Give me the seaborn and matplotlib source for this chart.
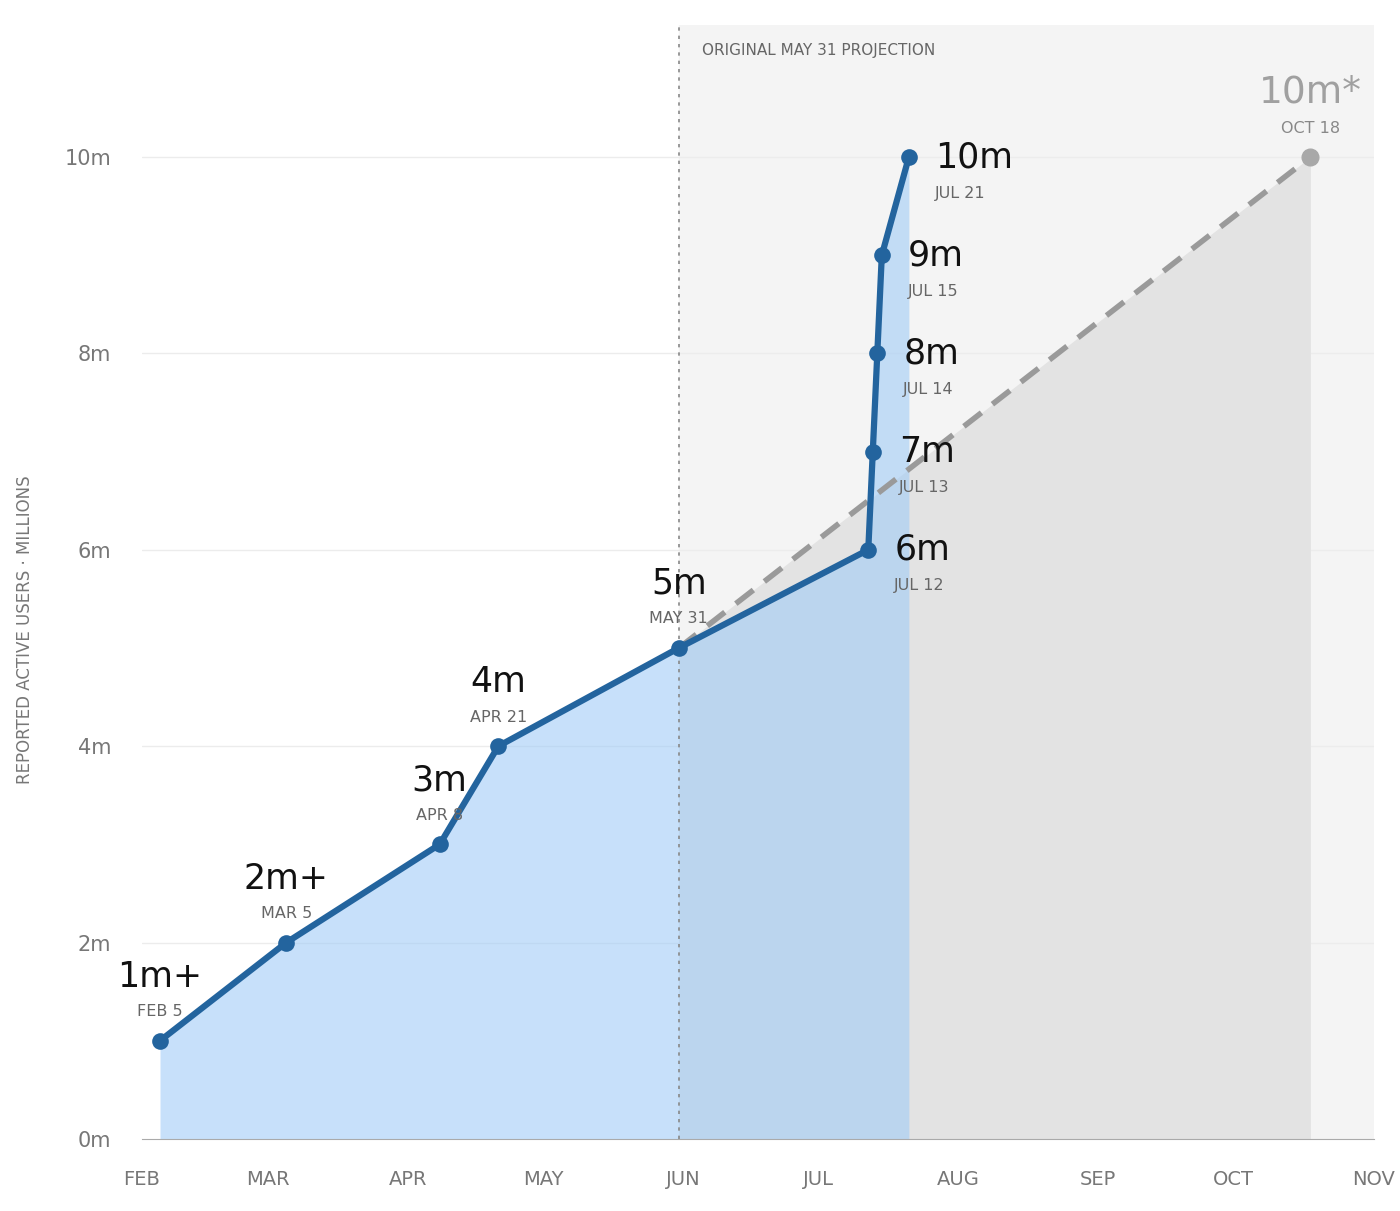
import pandas as pd
import seaborn as sns
import matplotlib.pyplot as plt
import matplotlib.dates as mdates

dates = ['2023-02-05', '2023-03-05', '2023-04-08', '2023-04-21', '2023-05-31',
         '2023-07-12', '2023-07-13', '2023-07-14', '2023-07-15', '2023-07-21']
users = [1, 2, 3, 4, 5, 6, 7, 8, 9, 10]
value_labels = ['1m+', '2m+', '3m', '4m', '5m', '6m', '7m', '8m', '9m', '10m']
date_labels = ['FEB 5', 'MAR 5', 'APR 8', 'APR 21', 'MAY 31',
               'JUL 12', 'JUL 13', 'JUL 14', 'JUL 15', 'JUL 21']
proj_dates = ['2023-05-31', '2023-10-18']
proj_users = [5, 10]
month_ticks = ['2023-02-01', '2023-03-01', '2023-04-01', '2023-05-01', '2023-06-01', '2023-07-01',
               '2023-08-01', '2023-09-01', '2023-10-01', '2023-11-01']
month_labels = ['FEB', 'MAR', 'APR', 'MAY', 'JUN', 'JUL', 'AUG', 'SEP', 'OCT', 'NOV']

df = pd.DataFrame({'date': pd.to_datetime(dates), 'users': users})
proj = pd.DataFrame({'date': pd.to_datetime(proj_dates), 'users': proj_users})

sns.set_style('white')
plt.rcParams['font.family'] = ['DejaVu Sans']

fig = plt.figure(figsize=(14, 12.11), dpi=100)
ax = fig.add_axes([0.1014, 0.0595, 0.8797, 0.9195])

x0 = pd.Timestamp('2023-02-01')
x1 = pd.Timestamp('2023-11-01')
ax.set_xlim(x0, x1)
ax.set_ylim(0, 11.34)

# shaded projection period
ax.axvspan(pd.Timestamp('2023-05-31'), x1, color='#f4f4f4', zorder=0)
ax.fill_between(proj['date'], 0, proj['users'], color='#e3e3e3', zorder=1, lw=0)
ax.fill_between(df['date'], 0, df['users'], color='#9fcbf7', alpha=0.58, zorder=2, lw=0)
ax.axvline(pd.Timestamp('2023-05-31'), color='#888888', ls=(0, (2, 3)), lw=1.2, zorder=3)

for y in range(2, 12, 2):
    ax.axhline(y, color='#ececec', lw=1, zorder=0.5)

sns.lineplot(data=proj, x='date', y='users', ax=ax, color='#9a9a9a', lw=4,
             dashes=False, zorder=4)
ax.lines[-1].set_dashes([4, 2.5])
ax.plot(proj['date'].iloc[-1], 10, 'o', color='#a8a8a8', ms=12, zorder=5)
sns.lineplot(data=df, x='date', y='users', ax=ax, color='#23649e', lw=4.5,
             marker='o', markersize=12, markeredgewidth=0, zorder=6)

for i, (d, u) in enumerate(zip(df['date'], df['users'])):
    if i < 5:
        ax.annotate(value_labels[i], (d, u), xytext=(0, 64), textcoords='offset pixels',
                    ha='center', va='center', fontsize=25, color='#111111', zorder=7)
        ax.annotate(date_labels[i], (d, u), xytext=(0, 29), textcoords='offset pixels',
                    ha='center', va='center', fontsize=11.5, color='#666666', zorder=7)
    else:
        ax.annotate(value_labels[i], (d, u), xytext=(26, 0), textcoords='offset pixels',
                    ha='left', va='center', fontsize=25, color='#111111', zorder=7)
        ax.annotate(date_labels[i], (d, u), xytext=(26, -36), textcoords='offset pixels',
                    ha='left', va='center', fontsize=11.5, color='#666666', zorder=7)

pd_last = proj['date'].iloc[-1]
ax.annotate('10m*', (pd_last, 10), xytext=(0, 65), textcoords='offset pixels',
            ha='center', va='center', fontsize=27, color='#a0a0a0')
ax.annotate('OCT 18', (pd_last, 10), xytext=(0, 29), textcoords='offset pixels',
            ha='center', va='center', fontsize=11.5, color='#888888')
ax.annotate('ORIGINAL MAY 31 PROJECTION', (pd.Timestamp('2023-05-31'), 11.34),
            xytext=(23, -25), textcoords='offset pixels', ha='left', va='center',
            fontsize=11, color='#666666')

ax.set_xticks(pd.to_datetime(month_ticks))
ax.set_xticklabels(month_labels, fontsize=14, color='#777777')
ax.set_yticks(range(0, 11, 2))
ax.set_yticklabels([f'{v}m' for v in range(0, 11, 2)], fontsize=15, color='#777777')
ax.tick_params(axis='x', length=8, color='#aaaaaa', pad=14)
ax.tick_params(axis='y', length=0, pad=22)
ax.set_xlabel('')
ax.set_ylabel('')
fig.text(0.018, 0.48, 'REPORTED ACTIVE USERS · MILLIONS', rotation=90, ha='center',
         va='center', fontsize=12, color='#777777')
for s in ['top', 'right', 'left']:
    ax.spines[s].set_visible(False)
ax.spines['bottom'].set_color('#aaaaaa')

fig.savefig('out.png', dpi=100)
